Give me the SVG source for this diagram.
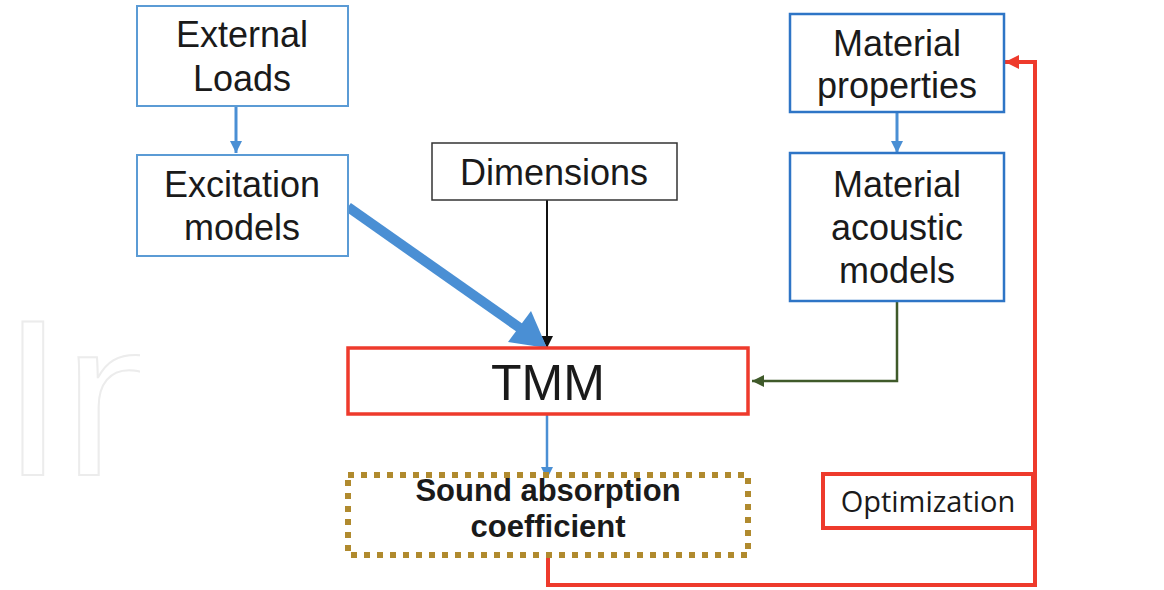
<svg xmlns="http://www.w3.org/2000/svg" width="1164" height="590" viewBox="0 0 1164 590">
<defs>
<style>
.t{font-family:"Liberation Sans",Arial,sans-serif;font-size:36px;fill:#1a1a1a;text-anchor:middle}
.wm{font-family:"Liberation Sans",Arial,sans-serif;font-size:222px;fill:none;stroke:#ececec;stroke-width:2}
.bl{fill:#fff;stroke:#5b9bd5;stroke-width:2}
.bd{fill:#fff;stroke:#2e75c6;stroke-width:2.5}
</style>
<marker id="ab" viewBox="0 0 10 10" refX="10" refY="5" markerWidth="12" markerHeight="12" markerUnits="userSpaceOnUse" orient="auto"><path d="M0,0L10,5L0,10z" fill="#4a8fd4"/></marker>
<marker id="ak" viewBox="0 0 10 10" refX="10" refY="5" markerWidth="12" markerHeight="12" markerUnits="userSpaceOnUse" orient="auto"><path d="M0,0L10,5L0,10z" fill="#111"/></marker>
<marker id="ag" viewBox="0 0 10 10" refX="10" refY="5" markerWidth="12" markerHeight="12" markerUnits="userSpaceOnUse" orient="auto"><path d="M0,0L10,5L0,10z" fill="#3f5a2a"/></marker>
<marker id="ar" viewBox="0 0 10 10" refX="10" refY="5" markerWidth="14" markerHeight="14" markerUnits="userSpaceOnUse" orient="auto"><path d="M0,0L10,5L0,10z" fill="#ee3a2c"/></marker>
</defs>
<rect width="1164" height="590" fill="#fff"/>
<g id="watermark">
<text class="wm" x="2" y="475">In</text>
<rect x="140" y="0" width="898" height="590" fill="#fff"/>
</g>
<g id="connectors">
<line x1="236" y1="106" x2="236" y2="153" stroke="#4a8fd4" stroke-width="3" marker-end="url(#ab)"/>
<line x1="897" y1="112" x2="897" y2="153" stroke="#4a8fd4" stroke-width="3" marker-end="url(#ab)"/>
<line x1="547" y1="199" x2="547" y2="348" stroke="#111" stroke-width="2" marker-end="url(#ak)"/>
<line x1="348" y1="207" x2="520" y2="328" stroke="#4a8fd4" stroke-width="10"/>
<path d="M508,342L547,348L531,311z" fill="#4a8fd4"/>
<polyline points="897,301 897,381 752,381" fill="none" stroke="#3f5a2a" stroke-width="2.5" marker-end="url(#ag)"/>
<line x1="547" y1="414" x2="547" y2="479" stroke="#4a8fd4" stroke-width="2.5" marker-end="url(#ab)"/>
<polyline points="548,556 548,585 1035,585 1035,62 1005,62" fill="none" stroke="#ee3a2c" stroke-width="4" marker-end="url(#ar)"/>
</g>
<g id="external-loads">
<rect class="bl" x="137" y="6" width="211" height="100"/>
<text class="t" x="242" y="47">External</text>
<text class="t" x="242" y="91">Loads</text>
</g>
<g id="excitation-models">
<rect class="bl" x="137" y="155" width="211" height="101"/>
<text class="t" x="242" y="197">Excitation</text>
<text class="t" x="242" y="240">models</text>
</g>
<g id="dimensions">
<rect x="432" y="143" width="245" height="57" fill="#fff" stroke="#333" stroke-width="1.5"/>
<text class="t" x="554" y="185">Dimensions</text>
</g>
<g id="material-properties">
<rect class="bd" x="790" y="14" width="214" height="98"/>
<text class="t" x="897" y="56">Material</text>
<text class="t" x="897" y="98">properties</text>
</g>
<g id="material-acoustic-models">
<rect class="bd" x="790" y="153" width="214" height="148"/>
<text class="t" x="897" y="197">Material</text>
<text class="t" x="897" y="240">acoustic</text>
<text class="t" x="897" y="283">models</text>
</g>
<g id="tmm">
<rect x="348" y="348" width="400" height="66" fill="#fff" stroke="#ee3a2c" stroke-width="3.5"/>
<text class="t" x="548" y="400" style="font-size:50px">TMM</text>
</g>
<g id="sound-absorption">
<rect x="348" y="475" width="400" height="80" fill="#fff" stroke="#b08a2e" stroke-width="6" stroke-dasharray="6,7"/>
<text class="t" style="font-size:31px;font-weight:bold"><tspan x="548" y="501">Sound absorption</tspan><tspan x="548" y="537">coefficient</tspan></text>
</g>
<g id="optimization">
<rect x="823" y="474" width="210" height="54" fill="#fff" stroke="#ee3a2c" stroke-width="4"/>
<text x="928" y="512" style="font-family:'Open Sans','Noto Sans',sans-serif;font-size:29px;fill:#1a1a1a;text-anchor:middle">Optimization</text>
</g>
</svg>
